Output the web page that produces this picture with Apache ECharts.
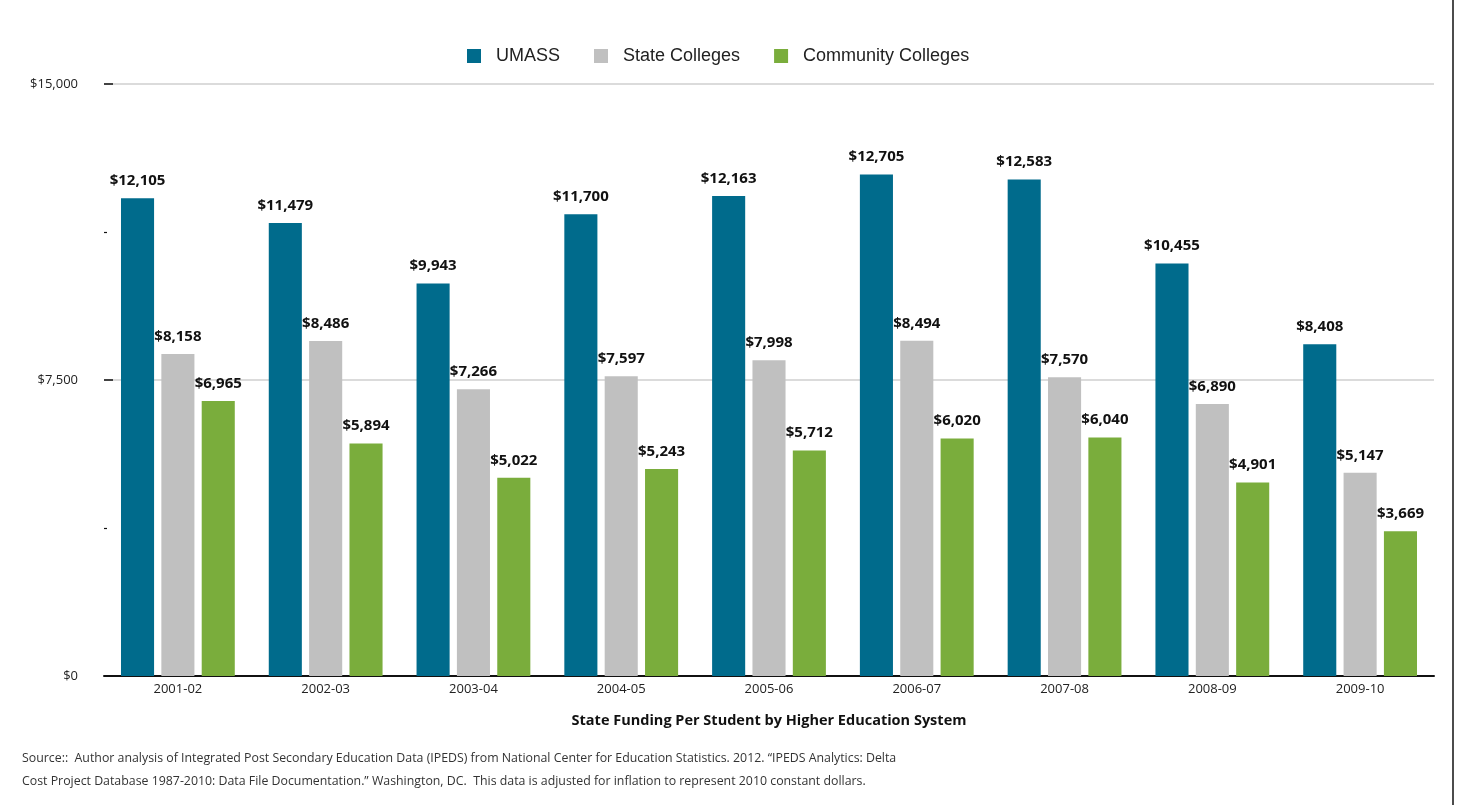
<!DOCTYPE html>
<html>
<head>
<meta charset="utf-8">
<script src="https://cdn.jsdelivr.net/npm/echarts@6/dist/echarts.min.js"></script>
<style>
  html, body { margin: 0; padding: 0; background: #fff; }
  #main { width: 1460px; height: 805px; }
</style>
</head>
<body>
<div id="main"></div>
<script>
// 学年
var years = ['2001-02', '2002-03', '2003-04', '2004-05', '2005-06', '2006-07', '2007-08', '2008-09', '2009-10']
// 每个系统的州拨款（每名学生，2010 美元）
var umass = [12105, 11479, 9943, 11700, 12163, 12705, 12583, 10455, 8408]
var stateColleges = [8158, 8486, 7266, 7597, 7998, 8494, 7570, 6890, 5147]
var communityColleges = [6965, 5894, 5022, 5243, 5712, 6020, 6040, 4901, 3669]
var yTicks = [0, 7500, 15000]

var money = function (v) {
  return '$' + Number(v).toLocaleString('en-US')
}

var labelStyle = {
  show: true,
  position: 'top',
  distance: 10,
  formatter: function (p) { return money(p.value) },
  color: '#111',
  fontFamily: 'Open Sans',
  fontWeight: 'bold',
  fontSize: 15
}

var myChart = echarts.init(document.getElementById('main'))

var options = {
  animation: false,
  legend: {
    top: 42,
    left: 462,
    itemWidth: 14,
    itemHeight: 14,
    itemGap: 34,
    icon: 'rect',
    textStyle: { fontFamily: 'Liberation Sans', fontSize: 18, color: '#222', padding: [0, 0, 0, 10] }
  },
  grid: {
    left: 104,
    right: 26,
    top: 84,
    bottom: 129
  },
  xAxis: {
    type: 'category',
    data: years,
    name: 'State Funding Per Student by Higher Education System',
    nameLocation: 'middle',
    nameGap: 37,
    nameTextStyle: { fontFamily: 'Open Sans', fontWeight: 'bold', fontSize: 14.5, color: '#111' },
    axisLine: { lineStyle: { color: '#111', width: 2 } },
    axisTick: { show: false },
    axisLabel: { fontFamily: 'Open Sans', fontSize: 13, color: '#222', margin: 7 }
  },
  yAxis: {
    type: 'value',
    min: yTicks[0],
    max: yTicks[2],
    interval: yTicks[1] - yTicks[0],
    axisLine: { show: false },
    axisTick: { show: true, inside: true, length: 9, lineStyle: { color: '#111', width: 1.5 } },
    minorTick: { show: true, splitNumber: 2, length: 3, lineStyle: { color: '#111', width: 1.2 } },
    splitLine: { lineStyle: { color: '#cfcfcf', width: 1.5 } },
    axisLabel: {
      fontFamily: 'Open Sans',
      fontSize: 13,
      color: '#222',
      margin: 26,
      formatter: money
    }
  },
  series: [
    {
      name: 'UMASS',
      type: 'bar',
      data: umass,
      barGap: '22%',
      barCategoryGap: '23%',
      itemStyle: { color: '#006B8C' },
      label: labelStyle
    },
    {
      name: 'State Colleges',
      type: 'bar',
      data: stateColleges,
      itemStyle: { color: '#C0C0C0' },
      label: labelStyle
    },
    {
      name: 'Community Colleges',
      type: 'bar',
      data: communityColleges,
      itemStyle: { color: '#7AAD3C' },
      label: labelStyle
    }
  ],
  graphic: [
    {
      type: 'text',
      left: 22,
      top: 747,
      style: {
        text: 'Source::  Author analysis of Integrated Post Secondary Education Data (IPEDS) from National Center for Education Statistics. 2012. \u201cIPEDS Analytics: Delta\nCost Project Database 1987-2010: Data File Documentation.\u201d Washington, DC.  This data is adjusted for inflation to represent 2010 constant dollars.',
        font: '12.35px "Open Sans", sans-serif',
        lineHeight: 23,
        fill: '#333'
      }
    },
    {
      type: 'line',
      shape: { x1: 1453, y1: 0, x2: 1453, y2: 805 },
      style: { stroke: '#111', lineWidth: 1.5 }
    }
  ]
}

myChart.setOption(options)
</script>
</body>
</html>
